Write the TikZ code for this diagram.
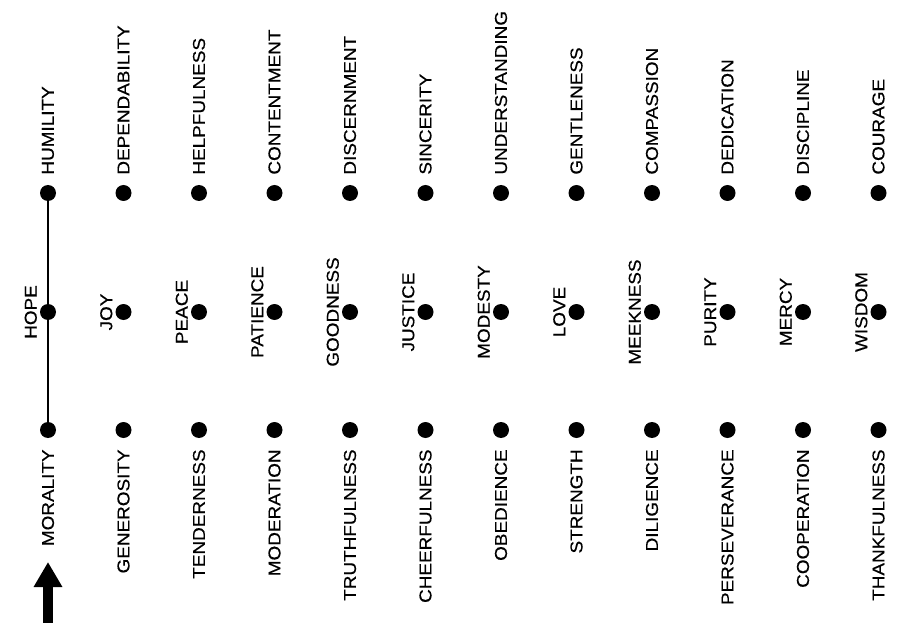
\documentclass[tikz,border=0pt]{standalone}
\usepackage{fontspec}
\setmainfont{Liberation Sans}
\newfontfamily\virtuefont[FakeStretch=1.1,FakeBold=0.4]{Liberation Sans}
\usetikzlibrary{positioning,arrows.meta}

\begin{document}
\begin{tikzpicture}[x=1pt, y=1pt,
  dot/.style={fill=black, circle, inner sep=0pt, minimum size=16pt},
  word/.style={rotate=90, inner sep=0pt, font=\virtuefont\fontsize{17.2}{19}\selectfont},
  toptext/.style={word, anchor=west},
  midtext/.style={word, anchor=center, yshift=-4pt},
  bottext/.style={word, anchor=east}]

\useasboundingbox (0,0) rectangle (898,-623);

\node[dot] (hum) at (48,-193) {};
\node[dot] (dep) at (123.5,-193) {};
\node[dot] (helpf) at (199,-193) {};
\node[dot] (cont) at (274.5,-193) {};
\node[dot] (disc) at (350,-193) {};
\node[dot] (sinc) at (425.5,-193) {};
\node[dot] (under) at (501,-193) {};
\node[dot] (gent) at (576.5,-193) {};
\node[dot] (comp) at (652,-193) {};
\node[dot] (dedic) at (727.5,-193) {};
\node[dot] (discip) at (803,-193) {};
\node[dot] (cour) at (878.5,-193) {};

\node[dot] (hope) at (48,-312) {};
\node[dot] (joy) at (123.5,-312) {};
\node[dot] (peace) at (199,-312) {};
\node[dot] (pat) at (274.5,-312) {};
\node[dot] (good) at (350,-312) {};
\node[dot] (just) at (425.5,-312) {};
\node[dot] (mod) at (501,-312) {};
\node[dot] (love) at (576.5,-312) {};
\node[dot] (meek) at (652,-312) {};
\node[dot] (pur) at (727.5,-312) {};
\node[dot] (mercy) at (803,-312) {};
\node[dot] (wis) at (878.5,-312) {};

\node[dot] (mor) at (48,-430) {};
\node[dot] (gen) at (123.5,-430) {};
\node[dot] (tend) at (199,-430) {};
\node[dot] (moder) at (274.5,-430) {};
\node[dot] (truth) at (350,-430) {};
\node[dot] (cheer) at (425.5,-430) {};
\node[dot] (obed) at (501,-430) {};
\node[dot] (stren) at (576.5,-430) {};
\node[dot] (dil) at (652,-430) {};
\node[dot] (pers) at (727.5,-430) {};
\node[dot] (coop) at (803,-430) {};
\node[dot] (thank) at (878.5,-430) {};

\node[above=10pt of hum, toptext] (humt) {HUMILITY};
\node[above=10pt of dep, toptext] (dept) {DEPENDABILITY};
\node[above=10pt of helpf, toptext] (helpft) {HELPFULNESS};
\node[above=10pt of cont, toptext] (contt) {CONTENTMENT};
\node[above=10pt of disc, toptext] (disct) {DISCERNMENT};
\node[above=10pt of sinc, toptext] (sinct) {SINCERITY};
\node[above=10pt of under, toptext] (undert) {UNDERSTANDING};
\node[above=10pt of gent, toptext] (gentt) {GENTLENESS};
\node[above=10pt of comp, toptext] (compt) {COMPASSION};
\node[above=10pt of dedic, toptext] (dedict) {DEDICATION};
\node[above=10pt of discip, toptext] (discipt) {DISCIPLINE};
\node[above=10pt of cour, toptext] (court) {COURAGE};

\node[left=13pt of hope, midtext] (hopet) {HOPE};
\node[left=13pt of joy, midtext] (joyt) {JOY};
\node[left=13pt of peace, midtext] (peacet) {PEACE};
\node[left=13pt of pat, midtext] (patt) {PATIENCE};
\node[left=13pt of good, midtext] (goodt) {GOODNESS};
\node[left=13pt of just, midtext] (justt) {JUSTICE};
\node[left=13pt of mod, midtext] (modt) {MODESTY};
\node[left=13pt of love, midtext] (lovet) {LOVE};
\node[left=13pt of meek, midtext] (meekt) {MEEKNESS};
\node[left=13pt of pur, midtext] (purt) {PURITY};
\node[left=13pt of mercy, midtext] (mercyt) {MERCY};
\node[left=13pt of wis, midtext] (wist) {WISDOM};

\node[below=11pt of mor, bottext] (mort) {MORALITY};
\node[below=11pt of gen, bottext] (gent) {GENEROSITY};
\node[below=11pt of tend, bottext] (tendt) {TENDERNESS};
\node[below=11pt of moder, bottext] (modert) {MODERATION};
\node[below=11pt of truth, bottext] (trutht) {TRUTHFULNESS};
\node[below=11pt of cheer, bottext] (cheert) {CHEERFULNESS};
\node[below=11pt of obed, bottext] (obedt) {OBEDIENCE};
\node[below=11pt of stren, bottext] (strent) {STRENGTH};
\node[below=11pt of dil, bottext] (dilt) {DILIGENCE};
\node[below=11pt of pers, bottext] (perst) {PERSEVERANCE};
\node[below=11pt of coop, bottext] (coopt) {COOPERATION};
\node[below=11pt of thank, bottext] (thankt) {THANKFULNESS};

\draw[line width=2.6pt] (mor) -- (hum);

\coordinate (tail) at (48,-623);
\coordinate (tip) at (48,-562);
\draw[line width=10pt, -{Triangle[width=27pt,length=25pt]}] (tail) -- (tip);

\end{tikzpicture}
\end{document}
